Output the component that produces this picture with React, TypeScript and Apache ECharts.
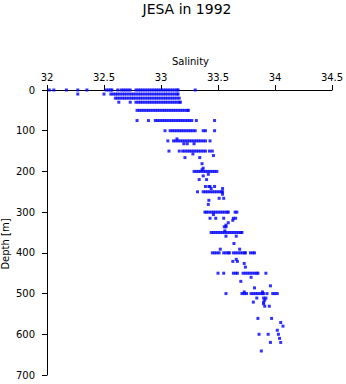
import React, { useEffect, useRef } from "react";
import * as echarts from "echarts";

// Standard bottle depths (m) and salinities observed at each level
const levelDepths = [0, 10, 20, 30, 50, 75, 100, 125, 150, 200, 250, 300, 350, 400, 450, 500];
const levelSalinity: number[][] = [
  [32.02, 32.06, 32.17, 32.27, 32.35, 32.52, 32.54, 32.56, 32.57, 32.62, 32.65, 32.67, 32.69, 32.71, 32.73,
    32.78, 32.8, 32.82, 32.84, 32.86, 32.88, 32.9, 32.92, 32.94, 32.96, 32.98, 33.0, 33.02, 33.04, 33.06, 33.08,
    33.1, 33.12, 33.14, 33.15, 33.3],
  [32.27, 32.5, 32.56, 32.58, 32.6, 32.62, 32.64, 32.66, 32.68, 32.7, 32.72, 32.74, 32.76, 32.78, 32.8, 32.82,
    32.84, 32.86, 32.88, 32.9, 32.92, 32.94, 32.96, 32.98, 33.0, 33.02, 33.04, 33.06, 33.08, 33.1, 33.12, 33.14, 33.15],
  [32.6, 32.62, 32.64, 32.66, 32.68, 32.7, 32.72, 32.74, 32.76, 32.78, 32.8, 32.82, 32.84, 32.86, 32.88, 32.9,
    32.92, 32.94, 32.96, 32.98, 33.0, 33.02, 33.04, 33.06, 33.08, 33.1, 33.12, 33.14, 33.16],
  [32.63, 32.73, 32.78, 32.8, 32.82, 32.84, 32.86, 32.88, 32.9, 32.92, 32.94, 32.96, 32.98, 33.0, 33.02, 33.04,
    33.06, 33.08, 33.1, 33.12, 33.14, 33.16, 33.17],
  [32.79, 32.81, 32.83, 32.85, 32.87, 32.89, 32.91, 32.93, 32.95, 32.97, 32.99, 33.01, 33.03, 33.05, 33.07, 33.09,
    33.11, 33.13, 33.15, 33.17, 33.19, 33.21, 33.23, 33.24],
  [32.79, 32.89, 32.95, 32.97, 32.99, 33.01, 33.03, 33.05, 33.07, 33.09, 33.11, 33.13, 33.15, 33.17, 33.19, 33.21,
    33.23, 33.25, 33.27, 33.31, 33.47],
  [33.035, 33.08, 33.1, 33.12, 33.14, 33.16, 33.18, 33.2, 33.22, 33.24, 33.26, 33.28, 33.3, 33.37, 33.39, 33.47],
  [33.06, 33.11, 33.13, 33.15, 33.17, 33.19, 33.21, 33.23, 33.25, 33.27, 33.29, 33.31, 33.33, 33.35, 33.37, 33.39, 33.43],
  [33.07, 33.16, 33.19, 33.21, 33.23, 33.25, 33.27, 33.29, 33.31, 33.33, 33.35, 33.37, 33.39, 33.425, 33.45],
  [33.29, 33.31, 33.33, 33.35, 33.37, 33.39, 33.41, 33.43, 33.45, 33.47, 33.49],
  [33.32, 33.37, 33.39, 33.41, 33.43, 33.45, 33.47, 33.49, 33.51, 33.53, 33.54],
  [33.385, 33.4, 33.42, 33.44, 33.46, 33.48, 33.5, 33.52, 33.54, 33.56, 33.58, 33.59, 33.65, 33.665],
  [33.44, 33.46, 33.48, 33.5, 33.52, 33.54, 33.56, 33.58, 33.6, 33.62, 33.64, 33.66, 33.68, 33.7, 33.71],
  [33.45, 33.47, 33.49, 33.51, 33.55, 33.57, 33.59, 33.6, 33.635, 33.655, 33.675, 33.695, 33.715, 33.735, 33.74,
    33.785, 33.805, 33.82],
  [33.5, 33.55, 33.635, 33.655, 33.67, 33.72, 33.74, 33.76, 33.78, 33.8, 33.82, 33.84, 33.85, 33.92],
  [33.57, 33.71, 33.73, 33.75, 33.79, 33.81, 33.83, 33.85, 33.87, 33.89, 33.9, 33.93, 33.98, 34.0, 34.02],
];

// Additional (CTD-style) observations between the standard levels
const extraSalinity = [
  33.14, 33.2, 33.23, 33.29, 33.28, 33.46, 33.21, 33.34, 33.36, 33.37, 33.36, 33.415, 33.37, 33.335, 33.4,
  33.39, 33.42, 33.43, 33.47, 33.44, 33.54, 33.54, 33.51, 33.55, 33.42, 33.415, 33.46, 33.43, 33.48, 33.55,
  33.635, 33.655, 33.63, 33.59, 33.57, 33.555, 33.57, 33.56, 33.57, 33.66, 33.64, 33.52, 33.69, 33.66, 33.63,
  33.67, 33.73, 33.74, 33.79, 33.7, 33.96, 33.82, 33.73, 33.89, 33.84, 33.9, 33.92, 33.91, 33.81, 33.9, 33.9,
  33.91, 33.95, 33.85, 33.97, 34.05, 34.07, 34.02, 33.86, 33.94, 34.03, 34.04, 33.96, 34.05, 33.88,
];
const extraDepth = [
  120, 132, 132, 132, 157, 161, 166, 166, 181, 192, 196, 207, 211, 220, 220,
  237, 237, 237, 237, 242, 242, 256, 266, 266, 271, 281, 306, 315, 315, 315,
  315, 315, 320, 326, 332, 336, 336, 346, 359, 359, 377, 391, 391, 416, 421,
  421, 426, 435, 460, 470, 481, 486, 496, 496, 511, 511, 511, 516, 521, 521, 525,
  531, 531, 561, 561, 571, 580, 590, 600, 600, 600, 610, 620, 620, 641,
];

const title = "JESA in 1992";
const xName = "Salinity";
const yName = "Depth [m]";

export default function App() {
  const ref = useRef<HTMLDivElement>(null);
  useEffect(() => {
    if (!ref.current) return;
    const chart = echarts.init(ref.current, undefined, { renderer: "svg" });
    const points: number[][] = [];
    levelDepths.forEach((d, i) => {
      levelSalinity[i].forEach((s) => points.push([s, d]));
    });
    extraSalinity.forEach((s, i) => points.push([s, extraDepth[i]]));
    const font = "DejaVu Sans";
    chart.setOption({
      animation: false,
      backgroundColor: "#ffffff",
      grid: { left: 47, right: 14, top: 90, bottom: 9, containLabel: false, outerBoundsMode: "none" },
      xAxis: {
        type: "value",
        position: "top",
        min: 32,
        max: 34.5,
        interval: 0.5,
        axisLine: { show: true, onZero: false, lineStyle: { color: "#000", width: 1 } },
        axisTick: { show: true, length: 5, inside: false, lineStyle: { color: "#000", width: 1 } },
        axisLabel: { color: "#000", fontFamily: font, fontSize: 10, margin: 8, showMinLabel: true, showMaxLabel: true },
        splitLine: { show: false },
      },
      yAxis: {
        type: "value",
        inverse: true,
        min: 0,
        max: 700,
        interval: 100,
        axisLine: { show: true, onZero: false, lineStyle: { color: "#000", width: 1 } },
        axisTick: { show: true, length: 5, inside: false, lineStyle: { color: "#000", width: 1 } },
        axisLabel: { color: "#000", fontFamily: font, fontSize: 10, margin: 12, showMinLabel: true, showMaxLabel: true },
        splitLine: { show: false },
      },
      graphic: [
        {
          type: "text",
          x: 187,
          y: 9,
          style: { text: title, fontFamily: font, fontSize: 14, fill: "#000", align: "center", verticalAlign: "middle" },
        },
        {
          type: "text",
          x: 190.5,
          y: 61,
          style: { text: xName, fontFamily: font, fontSize: 10, fill: "#000", align: "center", verticalAlign: "middle" },
        },
        {
          type: "text",
          x: 5.5,
          y: 244,
          rotation: Math.PI / 2,
          style: { text: yName, fontFamily: font, fontSize: 10, fill: "#000", align: "center", verticalAlign: "middle" },
        },
      ],
      series: [
        {
          type: "scatter",
          data: points,
          symbol: "rect",
          symbolSize: 3,
          itemStyle: { color: "#0000ff" },
          silent: true,
        },
      ],
    });
    return () => chart.dispose();
  }, []);
  return <div ref={ref} style={{ position: "fixed", left: 0, top: 0, width: 346, height: 384 }} />;
}
